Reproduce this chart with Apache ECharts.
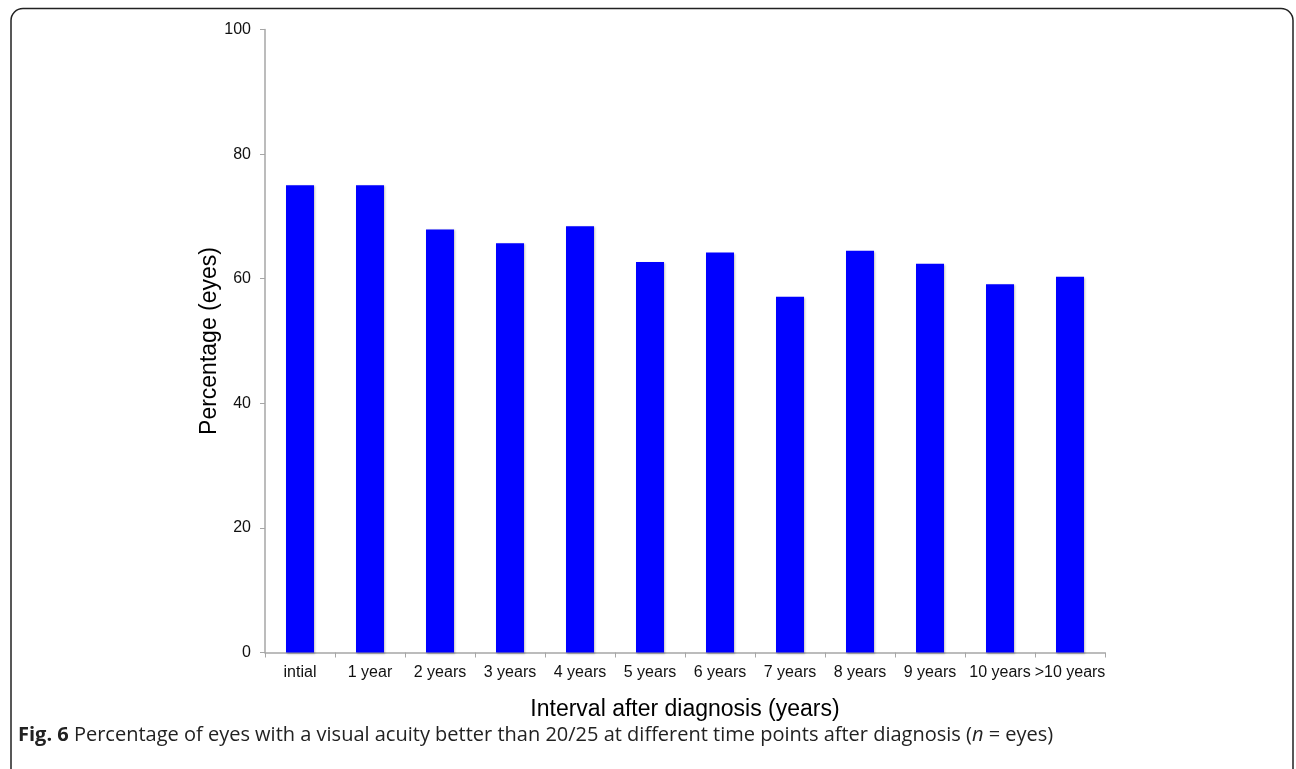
<!DOCTYPE html>
<html>
<head>
<meta charset="utf-8">
<script src="https://cdn.jsdelivr.net/npm/echarts@6/dist/echarts.min.js"></script>
<style>
  html, body { margin: 0; padding: 0; background: #fff; }
  #chart { width: 1296px; height: 769px; }
</style>
</head>
<body>
<div id="chart"></div>
<script>
// categories and values
const categories = ['intial', '1 year', '2 years', '3 years', '4 years', '5 years',
                    '6 years', '7 years', '8 years', '9 years', '10 years', '>10 years'];
const percentEyes = [75, 75, 67.9, 65.7, 68.4, 62.7, 64.2, 57.1, 64.5, 62.4, 59.1, 60.3];
const yTicks = [0, 20, 40, 60, 80, 100];

const chart = echarts.init(document.getElementById('chart'));

const axisGrey = '#a6a6a6';

chart.setOption({
  animation: false,
  backgroundColor: '#fff',
  textStyle: { fontFamily: 'Liberation Sans, Arial, sans-serif' },
  grid: { left: 265, right: 191, top: 29.5, bottom: 116.5, containLabel: false },
  xAxis: {
    type: 'category',
    data: categories,
    boundaryGap: true,
    name: 'Interval after diagnosis (years)',
    nameLocation: 'middle',
    nameGap: 46,
    nameTextStyle: { fontSize: 23, color: '#000' },
    axisLine: { lineStyle: { color: axisGrey, width: 1.5 } },
    axisTick: { show: true, length: 5, lineStyle: { color: axisGrey } },
    axisLabel: { fontSize: 16, color: '#111', margin: 12, interval: 0 }
  },
  yAxis: {
    type: 'value',
    min: yTicks[0],
    max: yTicks[yTicks.length - 1],
    interval: yTicks[1] - yTicks[0],
    name: 'Percentage (eyes)',
    nameLocation: 'middle',
    nameGap: 44,
    nameMoveOverlap: false,
    nameTextStyle: { fontSize: 23, color: '#000' },
    axisLine: { show: true, lineStyle: { color: axisGrey, width: 1.5 } },
    axisTick: { show: true, length: 5, lineStyle: { color: axisGrey } },
    axisLabel: { fontSize: 16, color: '#111', margin: 14 },
    splitLine: { show: false }
  },
  series: [{
    type: 'bar',
    data: percentEyes,
    barWidth: '40%',
    itemStyle: {
      color: '#0000ff',
      shadowColor: 'rgba(0,0,0,0.25)',
      shadowBlur: 2,
      shadowOffsetX: 1,
      shadowOffsetY: 1
    }
  }],
  graphic: [
    {
      type: 'rect',
      shape: { x: 11, y: 8.5, width: 1282, height: 790, r: 12 },
      style: { fill: 'none', stroke: '#222', lineWidth: 1.5 },
      silent: true
    },
    {
      type: 'text',
      left: 18,
      top: 725,
      style: {
        text: '{b|Fig. 6} Percentage of eyes with a visual acuity better than 20/25 at different time points after diagnosis ({i|n} = eyes)',
        font: '20px "Open Sans", sans-serif',
        fill: '#222',
        rich: {
          b: { fontWeight: 'bold', fontSize: 20, fontFamily: 'Open Sans', fill: '#222' },
          i: { fontStyle: 'italic', fontSize: 20, fontFamily: 'Open Sans', fill: '#222' }
        }
      }
    }
  ]
});
</script>
</body>
</html>
